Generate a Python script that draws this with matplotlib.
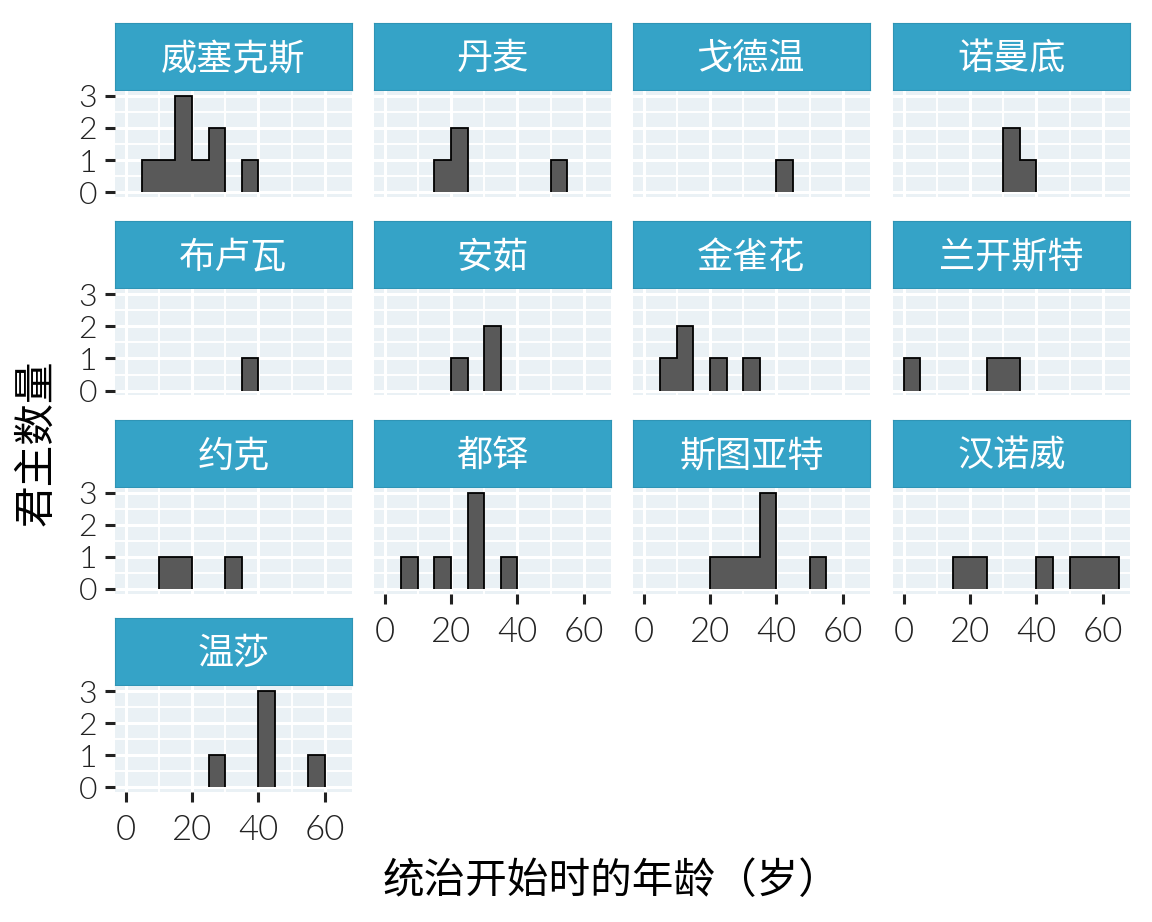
import matplotlib
matplotlib.use("Agg")
import matplotlib.pyplot as plt
import numpy as np

plt.rcParams["font.family"] = ["Lato", "Noto Sans CJK SC", "DejaVu Sans"]

# age at start of reign, per royal house
wessex_ages = [8, 12, 16, 17, 18, 21, 26, 28, 36]
denmark_ages = [19, 21, 22, 51]
godwin_ages = [44]
normandy_ages = [31, 32, 38]
blois_ages = [38]
anjou_ages = [21, 31, 32]
plantagenet_ages = [9, 10, 14, 23, 33]
lancaster_ages = [0, 26, 32]
york_ages = [12, 18, 30]
tudor_ages = [9, 17, 25, 27, 28, 37]
stuart_ages = [24, 26, 30, 36, 37, 38, 51]
hanover_ages = [18, 22, 43, 54, 57, 64]
windsor_ages = [25, 40, 41, 44, 59]

houses = ["威塞克斯", "丹麦", "戈德温", "诺曼底", "布卢瓦", "安茹", "金雀花",
          "兰开斯特", "约克", "都铎", "斯图亚特", "汉诺威", "温莎"]
house_ages = [wessex_ages, denmark_ages, godwin_ages, normandy_ages, blois_ages,
              anjou_ages, plantagenet_ages, lancaster_ages, york_ages, tudor_ages,
              stuart_ages, hanover_ages, windsor_ages]

x_ticks = [0, 20, 40, 60]
y_ticks = [0, 1, 2, 3]
bin_edges = np.arange(0, 70, 5)

STRIP = "#35a3c7"
PANEL_BG = "#eaf1f5"
TEXT = "#222222"
W, H = 1152, 922

fig = plt.figure(figsize=(W / 100, H / 100), dpi=100)


def px_axes(left, top, w, h):
    return fig.add_axes([left / W, 1 - (top + h) / H, w / W, h / H])


col_left = [115, 374, 633, 893]
panel_w = 237
strip_h = 67
panel_h = 106
row_pitch = 198.4
ncol = 4
n = len(houses)

for i, (name, ages) in enumerate(zip(houses, house_ages)):
    r, c = divmod(i, ncol)
    top = 23 + r * row_pitch
    left = col_left[c]

    sax = px_axes(left, top, panel_w, strip_h)
    sax.set_facecolor(STRIP)
    sax.set_xticks([])
    sax.set_yticks([])
    for sp in sax.spines.values():
        sp.set_color("#2f94b5")
        sp.set_linewidth(0.8)
    sax.text(0.5, 0.47, name, transform=sax.transAxes, ha="center", va="center",
             color="white", fontsize=26)

    ax = px_axes(left, top + strip_h + 1, panel_w, panel_h)
    ax.set_facecolor(PANEL_BG)
    for sp in ax.spines.values():
        sp.set_visible(False)
    ax.set_xlim(-3.25, 68.25)
    ax.set_ylim(-0.15, 3.15)
    ax.set_xticks(x_ticks)
    ax.set_xticks([10, 30, 50], minor=True)
    ax.set_yticks(y_ticks)
    ax.set_yticks([0.5, 1.5, 2.5], minor=True)
    ax.grid(which="major", color="white", lw=2.2)
    ax.grid(which="minor", color="white", lw=1.4)
    ax.set_axisbelow(True)

    counts, edges = np.histogram(ages, bins=bin_edges)
    # draw each run of non-empty bins as one outlined block
    start = None
    for k in range(len(counts) + 1):
        filled = k < len(counts) and counts[k] > 0
        if filled and start is None:
            start = k
        elif not filled and start is not None:
            ax.stairs(counts[start:k], edges[start:k + 1], fill=True,
                      facecolor="#595959", edgecolor="black", lw=1.3, zorder=3)
            start = None

    ax.tick_params(which="minor", length=0)
    ax.tick_params(which="major", length=7, width=2.2, color=TEXT,
                   labelcolor=TEXT)
    ax.tick_params(axis="y", labelsize=23, pad=6)
    ax.tick_params(axis="x", labelsize=25, pad=9)

    bottom_of_col = i + ncol >= n
    if c == 0:
        ax.set_yticklabels([str(v) for v in y_ticks], fontweight=300)
    else:
        ax.tick_params(axis="y", length=0, labelleft=False)
    if bottom_of_col:
        ax.set_xticklabels([str(v) for v in x_ticks], fontweight=300)
    else:
        ax.tick_params(axis="x", length=0, labelbottom=False)

fig.text(612 / W, 1 - 880 / H, "统治开始时的年龄（岁）", ha="center", va="center",
         fontsize=30, color="black")
fig.text(36 / W, 1 - 443 / H, "君主数量", ha="center", va="center",
         rotation=90, fontsize=30, color="black")

fig.savefig("out.png", dpi=100)
plt.close(fig)
